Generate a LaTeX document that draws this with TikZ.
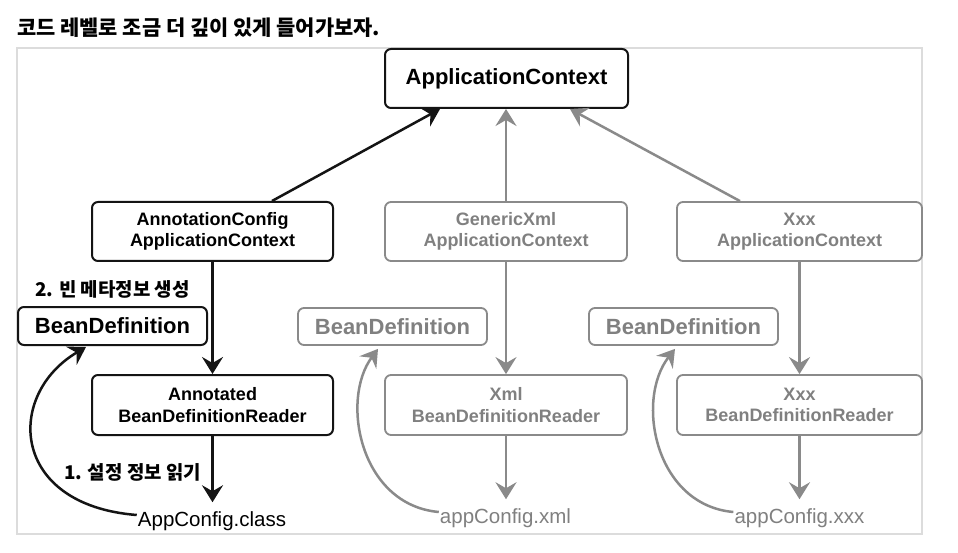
\documentclass[tikz,border=0pt]{standalone}
\usepackage{fontspec}
\setmainfont{Liberation Sans}
\newfontfamily\kr{Noto Sans CJK KR}
\usetikzlibrary{arrows.meta}
\definecolor{gline}{HTML}{8A8A8A}
\definecolor{gtext}{HTML}{808080}
\definecolor{framec}{HTML}{DCDCDC}
\begin{document}
\begin{tikzpicture}[x=1pt,y=-1pt,
  >={Stealth[length=17pt,width=21pt,inset=6pt]},
  basebox/.style={rounded corners=6pt, align=center, inner sep=0pt, fill=white,
    font=\bfseries\fontsize{18}{21.5}\selectfont},
  blackbox/.style={basebox, draw=black!92, line width=2pt, text=black},
  graybox/.style={basebox, draw=gline, line width=1.8pt, text=gtext},
  widebox/.style={minimum height=59pt},
  bdbox/.style={minimum width=189pt, minimum height=37pt, font=\bfseries\fontsize{22}{26}\selectfont},
  blkline/.style={draw=black!92, line width=2.5pt},
  grayline/.style={draw=gline, line width=2.5pt},
  srcfile/.style={font=\fontsize{20.5}{24}\selectfont, inner xsep=1pt, inner ysep=9pt},
  korlabel/.style={font=\kr\bfseries\fontsize{18.9}{22}\selectfont, inner sep=0pt}
]
\useasboundingbox (0,0) rectangle (958,553);
\fill[white] (0,0) rectangle (958,553);

% title
\node[anchor=west, inner sep=0pt, font=\kr\bfseries\fontsize{20.9}{24}\selectfont] (title) at (17,28) {코드 레벨로 조금 더 깊이 있게 들어가보자.};

% frame
\draw[framec, line width=1.5pt] (17,48) rectangle (922,534);

% top
\node[blackbox, minimum width=243pt, minimum height=59pt, font=\bfseries\fontsize{22}{26}\selectfont] (ac) at (506.5,78.5) {ApplicationContext};

% contexts
\node[blackbox, widebox, minimum width=241pt] (acc) at (212.5,231.5) {AnnotationConfig\\ApplicationContext};
\node[graybox, widebox, minimum width=242pt] (gx) at (506,231.5) {GenericXml\\ApplicationContext};
\node[graybox, widebox, minimum width=245pt] (xc) at (799.5,231.5) {Xxx\\ApplicationContext};

% bean definitions
\node[blackbox, bdbox, minimum height=38pt] (bd) at (112.5,326) {BeanDefinition};
\node[graybox, bdbox] (bdg) at (392.5,326.5) {BeanDefinition};
\node[graybox, bdbox] (bdx) at (683.5,326.5) {BeanDefinition};

% readers
\node[blackbox, minimum width=241pt, minimum height=60pt] (acr) at (212.5,405) {Annotated\\BeanDefinitionReader};
\node[graybox, minimum width=242pt, minimum height=60pt] (xr) at (506,405) {Xml\\BeanDefinitionReader};
\node[graybox, minimum width=245pt, minimum height=60pt] (xxr) at (799.5,405) {Xxx\\BeanDefinitionReader};

% sources
\node[srcfile, text=black] (cls) at (212,521) {AppConfig.class};
\node[srcfile, text=gtext] (xml) at (505.5,518) {appConfig.xml};
\node[srcfile, text=gtext] (xxx) at (799.5,518) {appConfig.xxx};

% labels
\node[korlabel] (lbl2) at (112.5,289) {2. 빈 메타정보 생성};
\node[korlabel] (lbl1) at (132.5,472) {1. 설정 정보 읽기};

% arrows to ApplicationContext
\draw[blkline,->] ([xshift=59.5pt]acc.north) -- ([xshift=-66.5pt]ac.south);
\draw[grayline,->] (gx.north) -- (gx.north |- ac.south);
\draw[grayline,->] ([xshift=-59.5pt]xc.north) -- ([xshift=63.5pt]ac.south);

% vertical arrows
\draw[blkline,->] (acc.south) -- (acr.north);
\draw[blkline,->] (acr.south) -- (acr.south |- cls.north);
\draw[grayline,->] (gx.south) -- (xr.north);
\draw[grayline,->] (xr.south) -- (xr.south |- xml.north);
\draw[grayline,->] (xc.south) -- (xxr.north);
\draw[grayline,->] (xxr.south) -- (xxr.south |- xxx.north);

% curved arrows
\draw[blkline,->] ([yshift=6pt]cls.west) .. controls (10,505) and (5,395) .. ([xshift=-26.5pt,yshift=-1pt]bd.south);
\draw[grayline,->] ([yshift=6pt]xml.west) .. controls (360,505) and (340,400) .. ([xshift=-14.5pt,yshift=-3pt]bdg.south);
\draw[grayline,->] ([yshift=6pt]xxx.west) .. controls (655,505) and (635,400) .. ([xshift=-8.5pt,yshift=-3pt]bdx.south);
\end{tikzpicture}
\end{document}
